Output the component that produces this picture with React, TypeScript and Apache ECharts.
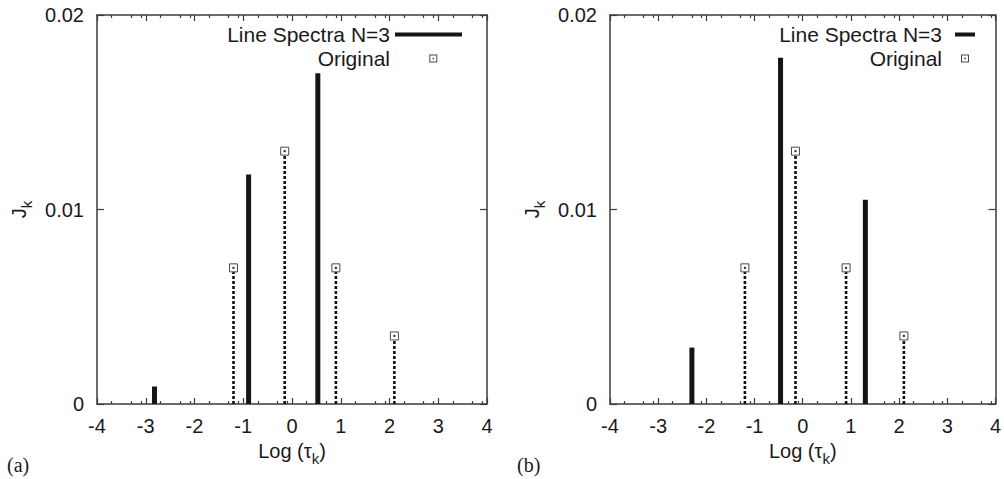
import React, { useEffect, useRef } from "react";
import * as echarts from "echarts";

// ---- data ----
const X_TICKS = [-4, -3, -2, -1, 0, 1, 2, 3, 4];
const Y_TICKS = [0, 0.01, 0.02];
const MINOR_FRACTIONS = [0.301, 0.699, 0.903]; // minor tick offsets inside each decade

const ORIGINAL_LOG_TAU = [-1.2, -0.15, 0.9, 2.1];
const ORIGINAL_J = [0.007, 0.013, 0.007, 0.0035];

const SPECTRA_A_LOG_TAU = [-2.82, -0.89, 0.53];
const SPECTRA_A_J = [0.0009, 0.0118, 0.017];

const SPECTRA_B_LOG_TAU = [-2.3, -0.46, 1.3];
const SPECTRA_B_J = [0.0029, 0.0178, 0.0105];

const PANEL_LABELS = ["(a)", "(b)"];
const SERIES_NAMES = ["Line Spectra N=3", "Original"];

const FONT = "Liberation Sans";
const TEXT_COLOR = "#1a1a1a";
const AXIS_COLOR = "#3c3c3c";

const minorTicks: number[] = [];
X_TICKS.slice(0, -1).forEach((t) => MINOR_FRACTIONS.forEach((f) => minorTicks.push(t + f)));

const zip = (xs: number[], ys: number[]) => xs.map((x, i) => [x, ys[i]]);

const subRich = {
  s: { fontSize: 15, fontFamily: FONT, color: TEXT_COLOR, padding: [16, 0, 0, 0] },
};

function buildAxes(g: number) {
  const base = { type: "value", min: X_TICKS[0], max: X_TICKS[X_TICKS.length - 1], interval: 1, gridIndex: g, splitLine: { show: false } };
  const line = { show: true, onZero: false, lineStyle: { color: AXIS_COLOR, width: 1.5 } };
  const xAxes = [
    {
      ...base,
      position: "bottom",
      axisLine: line,
      axisTick: { show: true, inside: true, length: 6, lineStyle: { color: AXIS_COLOR, width: 1.2 } },
      axisLabel: { show: true, margin: 12, fontSize: 20, fontFamily: FONT, color: TEXT_COLOR },
      name: "Log (τ{s|k})",
      nameLocation: "middle",
      nameGap: 30,
      nameTextStyle: { fontSize: 20, fontFamily: FONT, color: TEXT_COLOR, rich: subRich },
    },
    {
      ...base,
      position: "bottom",
      axisLine: { show: false, onZero: false },
      axisTick: { show: true, inside: true, length: 3, customValues: minorTicks, lineStyle: { color: AXIS_COLOR, width: 1.2 } },
      axisLabel: { show: false },
    },
    {
      ...base,
      position: "top",
      axisLine: line,
      axisTick: { show: true, inside: true, length: 6, lineStyle: { color: AXIS_COLOR, width: 1.2 } },
      axisLabel: { show: false },
    },
    {
      ...base,
      position: "top",
      axisLine: { show: false, onZero: false },
      axisTick: { show: true, inside: true, length: 3, customValues: minorTicks, lineStyle: { color: AXIS_COLOR, width: 1.2 } },
      axisLabel: { show: false },
    },
  ];
  const ybase = { type: "value", min: Y_TICKS[0], max: Y_TICKS[Y_TICKS.length - 1], interval: 0.01, gridIndex: g, splitLine: { show: false } };
  const yAxes = [
    {
      ...ybase,
      position: "left",
      axisLine: line,
      axisTick: { show: true, inside: true, length: 7, lineStyle: { color: AXIS_COLOR, width: 1.2 } },
      axisLabel: { show: true, margin: 13, fontSize: 20, fontFamily: FONT, color: TEXT_COLOR },
      name: "J{s|k}",
      nameLocation: "middle",
      nameRotate: 90,
      nameGap: 63,
      nameTextStyle: { fontSize: 20, fontFamily: FONT, color: TEXT_COLOR, rich: subRich },
    },
    {
      ...ybase,
      position: "right",
      axisLine: line,
      axisTick: { show: true, inside: true, length: 7, lineStyle: { color: AXIS_COLOR, width: 1.2 } },
      axisLabel: { show: false },
    },
  ];
  return { xAxes, yAxes };
}

function originalRender(params: any, api: any) {
  const x = api.value(0);
  const y = api.value(1);
  const top = api.coord([x, y]);
  const base = api.coord([x, 0]);
  return {
    type: "group",
    children: [
      {
        type: "line",
        shape: { x1: base[0], y1: base[1], x2: top[0], y2: top[1] },
        style: { stroke: "#111111", lineWidth: 2.6, lineDash: [3, 2] },
      },
      {
        type: "rect",
        shape: { x: top[0] - 4, y: top[1] - 4, width: 8, height: 8 },
        style: { fill: "#ffffff", stroke: "#4a4a4a", lineWidth: 1 },
      },
      {
        type: "rect",
        shape: { x: top[0] - 1, y: top[1] - 1, width: 2, height: 2 },
        style: { fill: "#222" },
      },
    ],
  };
}

export default function App() {
  const ref = useRef<HTMLDivElement>(null);
  useEffect(() => {
    if (!ref.current) return;
    const chart = echarts.init(ref.current, undefined, { renderer: "svg" });
    const a = buildAxes(0);
    const b = buildAxes(1);

    const spectra = [zip(SPECTRA_A_LOG_TAU, SPECTRA_A_J), zip(SPECTRA_B_LOG_TAU, SPECTRA_B_J)];
    const original = zip(ORIGINAL_LOG_TAU, ORIGINAL_J);

    const series: any[] = [];
    [0, 1].forEach((g) => {
      series.push({
        type: "bar",
        name: SERIES_NAMES[0],
        xAxisIndex: g * 4,
        yAxisIndex: g * 2,
        data: spectra[g],
        barWidth: 5,
        itemStyle: { color: "#151515" },
        emphasis: { disabled: true },
      });
      series.push({
        type: "custom",
        name: SERIES_NAMES[1],
        xAxisIndex: g * 4,
        yAxisIndex: g * 2,
        data: original,
        renderItem: originalRender,
        itemStyle: { color: "#444" },
        emphasis: { disabled: true },
      });
    });

    const legendText = { fontSize: 21, fontFamily: FONT, color: TEXT_COLOR };
    const makeLegend = (right: number, w: number, lineStart: number, boxCenter: number) => ({
      orient: "vertical",
      right,
      top: 24,
      padding: 0,
      itemGap: 3,
      align: "right",
      itemWidth: w,
      itemHeight: 9,
      selectedMode: false,
      textStyle: legendText,
      data: [
        {
          name: SERIES_NAMES[0],
          icon: `path://M0,0 M${w},9 M${lineStart},2.5 H${w} V6.5 H${lineStart} Z`,
          itemStyle: { color: "#151515", borderWidth: 0 },
        },
        {
          name: SERIES_NAMES[1],
          icon: `path://M0,0 M${w},9 M${boxCenter - 4},0.5 H${boxCenter + 4} V8.5 H${boxCenter - 4} Z M${boxCenter - 3},1.5 V7.5 H${boxCenter + 3} V1.5 Z M${boxCenter - 0.8},3.7 H${boxCenter + 0.8} V5.3 H${boxCenter - 0.8} Z`,
          itemStyle: { color: "#4a4a4a", borderWidth: 0 },
        },
      ],
    });

    const titleStyle = { fontFamily: "Liberation Serif", fontSize: 20, fontWeight: "normal", color: TEXT_COLOR };

    chart.setOption({
      animation: false,
      backgroundColor: "#ffffff",
      grid: [
        { left: 97, right: 517, top: 15, bottom: 75 },
        { left: 610, right: 4, top: 15, bottom: 75 },
      ],
      xAxis: [...a.xAxes, ...b.xAxes],
      yAxis: [...a.yAxes, ...b.yAxes],
      legend: [makeLegend(542, 67, 0, 38.3), makeLegend(29, 28, 8, 18)],
      title: [
        { text: PANEL_LABELS[0], left: 7, top: 455, padding: 0, textStyle: titleStyle },
        { text: PANEL_LABELS[1], left: 517, top: 455, padding: 0, textStyle: titleStyle },
      ],
      series,
    });
    return () => chart.dispose();
  }, []);
  return <div ref={ref} style={{ position: "fixed", left: 0, top: 0, width: 1004, height: 479 }} />;
}
